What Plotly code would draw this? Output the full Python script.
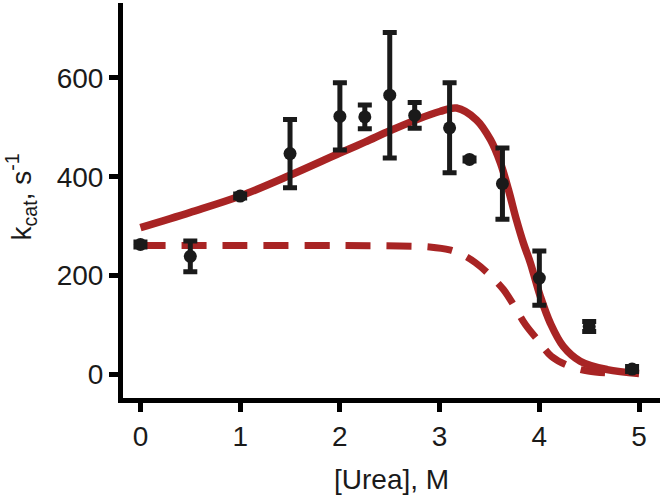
import plotly.graph_objects as go

# measured data
urea = [0, 0.5, 1.0, 1.5, 2.0, 2.25, 2.5, 2.75, 3.1, 3.3, 3.63, 4.0, 4.5, 4.93]
kcat = [263, 239, 361, 447, 522, 521, 565, 524, 499, 435, 386, 195, 97, 11]
kcat_err = [5, 31, 4, 69, 68, 24, 127, 26, 91, 3, 72, 55, 10, 5]

# fitted curve (solid)
fit_x = [0, 0.5, 1.0, 1.5, 2.0, 2.25, 2.5, 2.75, 3.0, 3.17, 3.37, 3.51, 3.61, 3.69, 3.77,
         3.84, 3.91, 4.01, 4.11, 4.24, 4.41, 4.68, 5.0]
fit_y = [297, 328, 361, 403, 448, 470, 493, 514, 532, 539, 515, 475, 428, 374, 313,
         266, 226, 158, 104, 57, 27, 10, 2]

# dashed curve
dash_x = [0, 1, 2, 2.6, 2.9, 3.1, 3.25, 3.36, 3.5, 3.64, 3.75, 3.86, 4.0, 4.12, 4.3, 4.49, 4.7]
dash_y = [261, 261, 261, 260, 258, 252, 240, 226, 202, 172, 138, 101, 66, 37, 17, 7, 3]

x_ticks = [0, 1, 2, 3, 4, 5]
y_ticks = [0, 200, 400, 600]

x_title = "[Urea], M"
y_title = "k<sub>cat</sub>, s<sup>-1</sup>"

RED = "#a82424"
BLACK = "#1a1a1a"

fig = go.Figure()
fig.add_trace(go.Scatter(x=dash_x, y=dash_y, mode="lines",
                         line=dict(color=RED, width=7, dash="25px,16px", shape="spline"),
                         showlegend=False))
fig.add_trace(go.Scatter(x=fit_x, y=fit_y, mode="lines",
                         line=dict(color=RED, width=7.5, shape="spline"),
                         showlegend=False))
fig.add_trace(go.Scatter(x=urea, y=kcat, mode="markers",
                         marker=dict(color=BLACK, size=13),
                         error_y=dict(type="data", array=kcat_err, color=BLACK,
                                      thickness=5, width=7),
                         showlegend=False))

font = dict(family="Liberation Sans, Arial, sans-serif", size=28, color="#1a1a1a")
fig.update_layout(
    width=664, height=501,
    margin=dict(l=122.5, r=4, t=3, b=102.5),
    paper_bgcolor="white", plot_bgcolor="white",
    font=font,
    xaxis=dict(range=[-0.175, 5.21], tickvals=x_ticks, showgrid=False, zeroline=False,
               automargin=False,
               showline=True, linecolor="black", linewidth=5,
               ticks="outside", ticklen=9, tickwidth=5, tickcolor="black"),
    yaxis=dict(range=[-47.5, 751.5], tickvals=y_ticks, showgrid=False, zeroline=False,
               automargin=False, ticksuffix="\u00a0",
               showline=True, linecolor="black", linewidth=5,
               ticks="outside", ticklen=9, tickwidth=5, tickcolor="black"),
    annotations=[
        dict(text=x_title, xref="paper", yref="paper", x=0.5, y=0,
             xanchor="center", yanchor="middle", yshift=-81.5, showarrow=False, font=font),
        dict(text=y_title, xref="paper", yref="paper", x=0, y=0.5, textangle=-90,
             xanchor="center", yanchor="middle", xshift=-102, yshift=3, showarrow=False,
             font=font),
    ],
)

fig.write_html("out.html", config={"displayModeBar": False},
               post_script="document.body.style.margin='0';document.body.style.overflow='hidden';")
